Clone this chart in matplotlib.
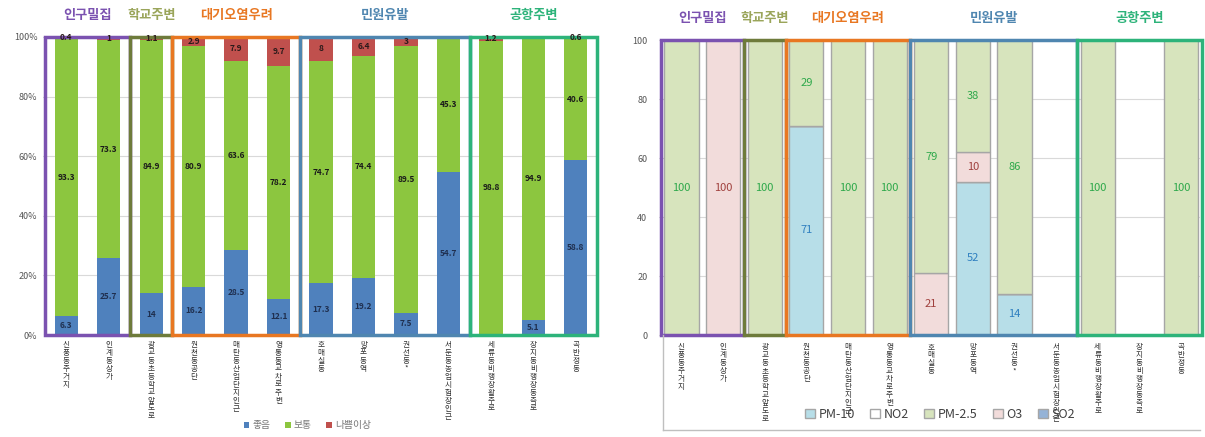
import numpy as np
import matplotlib
matplotlib.use("Agg")
import matplotlib.pyplot as plt
from matplotlib.patches import Rectangle, Patch
from matplotlib.lines import Line2D

plt.rcParams["font.family"] = ["Noto Sans CJK KR", "DejaVu Sans"]

# station names (vertical labels, illegible in source -> approximated)
stations = [
    "신풍동주거지", "인계동상가", "광교동초등학교앞도로", "원천동공단",
    "매탄동산업단지인근", "영통동교차로주변", "호매실동", "망포동역",
    "권선동*", "서둔동농업시험장인근", "세류동비행장활주로", "장지동비행장동측로",
    "곡반정동",
]

# left chart: share of days per grade (%)
good = [6.3, 25.7, 14, 16.2, 28.5, 12.1, 17.3, 19.2, 7.5, 54.7, 0, 5.1, 58.8]
normal = [93.3, 73.3, 84.9, 80.9, 63.6, 78.2, 74.7, 74.4, 89.5, 45.3, 98.8, 94.9, 40.6]
bad = [0.4, 1, 1.1, 2.9, 7.9, 9.7, 8, 6.4, 3, 0, 1.2, 0, 0.6]

# right chart: share of main pollutant (%)
pm10 = [0, 0, 0, 71, 0, 0, 0, 52, 14, 0, 0, 0, 0]
no2 = [0, 0, 0, 0, 0, 0, 0, 0, 0, 0, 0, 0, 0]
o3 = [0, 100, 0, 0, 0, 0, 21, 10, 0, 0, 0, 0, 0]
pm25 = [100, 0, 100, 29, 100, 100, 79, 38, 86, 0, 100, 0, 100]
so2 = [0, 0, 0, 0, 0, 0, 0, 0, 0, 0, 0, 0, 0]

groups = ["인구밀집", "학교주변", "대기오염우려", "민원유발", "공항주변"]
group_ranges = [(0, 1), (2, 2), (3, 5), (6, 9), (10, 12)]
group_box_colors = ["#7B52B0", "#6E7B3B", "#E87722", "#4F86B0", "#2DB37A"]
group_text_colors = ["#7B52B0", "#9AA55A", "#E87722", "#4F86B0", "#2DB37A"]

fig = plt.figure(figsize=(12.05, 4.37), dpi=100)
ax1 = fig.add_axes([0.0357, 0.2334, 0.4597, 0.682])
ax2 = fig.add_axes([0.550, 0.2334, 0.4456, 0.675])

x = np.arange(len(stations))
xt_labels = ["\n".join(s) for s in stations]


def draw_groups(ax, lw):
    for name, (i, j), bc, tc in zip(groups, group_ranges, group_box_colors, group_text_colors):
        ax.add_patch(Rectangle((i - 0.5, 0), j - i + 1, 100, fill=False,
                               edgecolor=bc, linewidth=lw, zorder=5, clip_on=False))
        ax.text((i + j) / 2, 1.075, name, transform=ax.get_xaxis_transform(),
                ha="center", va="center", fontsize=9.5, fontweight="bold", color=tc)


# ---- left chart ----
w = 0.55
b1 = ax1.bar(x, good, w, color="#4F81BD", zorder=2, label="좋음")
b2 = ax1.bar(x, normal, w, bottom=good, color="#8CC63F", zorder=2, label="보통")
b3 = ax1.bar(x, bad, w, bottom=np.add(good, normal), color="#C0504D", zorder=2, label="나쁨이상")

for i in x:
    if good[i] > 0:
        ax1.text(i, good[i] / 2, f"{good[i]:g}", ha="center", va="center",
                 fontsize=6, fontweight="bold", color="#1F2F4F", zorder=3)
    ax1.text(i, good[i] + normal[i] / 2, f"{normal[i]:g}", ha="center", va="center",
             fontsize=6, fontweight="bold", color="#1A1A1A", zorder=3)
    if bad[i] > 0:
        ax1.text(i, good[i] + normal[i] + bad[i] / 2, f"{bad[i]:g}", ha="center",
                 va="center", fontsize=6, fontweight="bold", color="#2A1A1A", zorder=6)

ax1.set_xlim(-0.55, 12.5)
ax1.set_ylim(0, 100)
ax1.set_yticks(range(0, 101, 20))
ax1.set_yticklabels([f"{v}%" for v in range(0, 101, 20)], fontsize=6.5, color="#555555")
ax1.set_xticks(x)
ax1.set_xticklabels(xt_labels, fontsize=5.5, linespacing=1.0, color="#333333")
ax1.tick_params(length=0, pad=4)
ax1.yaxis.grid(True, color="#D9D9D9", linewidth=0.8, zorder=0)
for s in ax1.spines.values():
    s.set_visible(False)
draw_groups(ax1, 2.5)

fig.legend(handles=[b1, b2, b3], labels=["좋음", "보통", "나쁨이상"],
           loc="center", bbox_to_anchor=(0.255, 0.027), ncol=3, frameon=False,
           fontsize=7, handlelength=0.6, handleheight=0.6, columnspacing=1.5,
           handletextpad=0.3, labelcolor="#777777")

# ---- right chart ----
w2 = 0.82
edge = "#A6A6A6"
series = [("PM-10", pm10, "#B7DEE8", "#2E7FC0"),
          ("NO2", no2, "#FFFFFF", "#555555"),
          ("O3", o3, "#F2DCDB", "#A0403D"),
          ("PM-2.5", pm25, "#D7E4BD", "#2DA84A"),
          ("SO2", so2, "#95B3D7", "#1F3864")]
bottom = np.zeros(len(stations))
handles = {}
for name, vals, col, tcol in series:
    vals = np.array(vals, dtype=float)
    h = ax2.bar(x, vals, w2, bottom=bottom, color=col, edgecolor=edge,
                linewidth=1.0, zorder=2)
    handles[name] = Patch(facecolor=col, edgecolor=edge, linewidth=1.0)
    for i in x:
        if vals[i] > 0:
            ax2.text(i, bottom[i] + vals[i] / 2, f"{vals[i]:g}", ha="center",
                     va="center", fontsize=8, color=tcol, zorder=3)
    bottom += vals

ax2.set_xlim(-0.45, 12.45)
ax2.set_ylim(0, 100)
ax2.set_yticks(range(0, 101, 20))
ax2.set_yticklabels([str(v) for v in range(0, 101, 20)], fontsize=6.5, color="#555555")
ax2.set_xticks(x)
ax2.set_xticklabels(xt_labels, fontsize=5.5, linespacing=1.0, color="#333333")
ax2.tick_params(axis="x", length=0, pad=6)
ax2.tick_params(axis="y", length=3, color="#BFBFBF", pad=8)
ax2.yaxis.grid(True, color="#D9D9D9", linewidth=0.8, zorder=0)
for s in ax2.spines.values():
    s.set_visible(False)
draw_groups(ax2, 2.5)

order = ["PM-10", "NO2", "PM-2.5", "O3", "SO2"]
fig.legend(handles=[handles[k] for k in order], labels=order, loc="center",
           bbox_to_anchor=(0.78, 0.052), ncol=5, frameon=False, fontsize=9,
           handlelength=0.8, handleheight=0.8, columnspacing=1.2,
           handletextpad=0.3, labelcolor="#404040")

# outer frame of the right chart area below the axis
fig.add_artist(Line2D([0.550, 0.550], [0.016, 0.2334], color="#BFBFBF", lw=1))
fig.add_artist(Line2D([0.550, 0.996], [0.016, 0.016], color="#BFBFBF", lw=1))

fig.savefig("out.png", dpi=100)
